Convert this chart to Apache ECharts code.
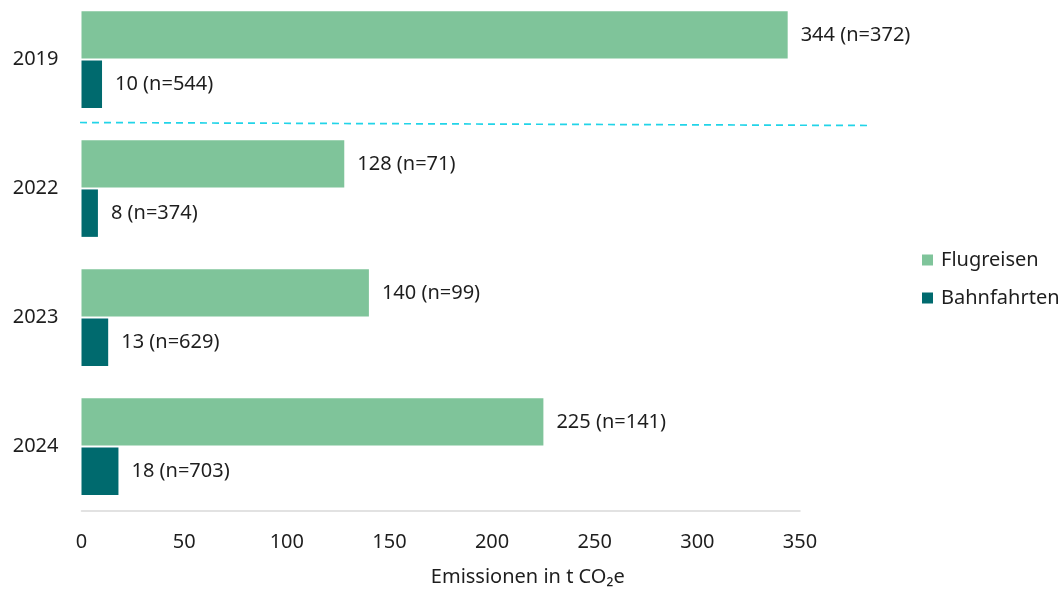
<!DOCTYPE html>
<html>
<head>
<meta charset="utf-8">
<script src="https://cdn.jsdelivr.net/npm/echarts@6/dist/echarts.min.js"></script>
<style>
  html, body { margin: 0; padding: 0; background: #ffffff; overflow: hidden; }
  /* the plot area starts slightly above the page edge, so the canvas is shifted up */
  #chart { width: 1063px; height: 597px; transform: translateY(-5px); }
</style>
</head>
<body>
<div id="chart"></div>
<script>
// Travel emissions per year, in tonnes CO2e, with number of trips
const years = ['2019', '2022', '2023', '2024'];
const flugreisen = [344, 128, 140, 225];
const flugreisenN = [372, 71, 99, 141];
const bahnfahrten = [10, 8, 13, 18];
const bahnfahrtenN = [544, 374, 629, 703];
const xTicks = [0, 50, 100, 150, 200, 250, 300, 350];

const FONT = '"Noto Sans", "Open Sans", sans-serif';
const TEXT = '#1e1e1e';
const SIZE = 20;

const chart = echarts.init(document.getElementById('chart'), null, { renderer: 'canvas' });

function labelFor(counts) {
  return {
    show: true,
    position: 'right',
    distance: 13,
    color: TEXT,
    fontFamily: FONT,
    fontSize: SIZE,
    formatter: p => p.value + ' (n=' + counts[p.dataIndex] + ')'
  };
}

chart.setOption({
  animation: false,
  backgroundColor: '#ffffff',
  grid: { left: 81.5, right: 263, top: 0, bottom: 74 },
  legend: {
    orient: 'vertical',
    left: 917,
    top: 250,
    itemWidth: 11,
    itemHeight: 11,
    itemGap: 18,
    icon: 'rect',
    textStyle: { color: TEXT, fontFamily: FONT, fontSize: SIZE, padding: [0, 0, 0, 3] },
    data: ['Flugreisen', 'Bahnfahrten']
  },
  xAxis: {
    type: 'value',
    min: xTicks[0],
    max: xTicks[xTicks.length - 1],
    interval: xTicks[1] - xTicks[0],
    name: 'Emissionen in t CO\u2082e',
    nameLocation: 'middle',
    nameGap: 56,
    nameTextStyle: { color: TEXT, fontFamily: FONT, fontSize: SIZE, padding: [0, 0, 0, 174] },
    axisLine: { show: true, lineStyle: { color: '#d9d9d9', width: 1.5 } },
    axisTick: { show: false },
    splitLine: { show: false },
    axisLabel: { color: TEXT, fontFamily: FONT, fontSize: SIZE, margin: 21 }
  },
  yAxis: {
    type: 'category',
    data: years,
    inverse: true,
    axisLine: { show: false },
    axisTick: { show: false },
    axisLabel: { color: TEXT, fontFamily: FONT, fontSize: SIZE, margin: 23 }
  },
  series: [
    {
      name: 'Flugreisen',
      type: 'bar',
      data: flugreisen,
      barCategoryGap: '25%',
      barGap: '4%',
      itemStyle: { color: '#7fc49a' },
      label: labelFor(flugreisenN)
    },
    {
      name: 'Bahnfahrten',
      type: 'bar',
      data: bahnfahrten,
      barCategoryGap: '25%',
      barGap: '4%',
      itemStyle: { color: '#006a6e' },
      label: labelFor(bahnfahrtenN)
    }
  ]
});

// Dashed separator between the pre-pandemic year and the later years
const yA = chart.convertToPixel({ yAxisIndex: 0 }, years[0]);
const yB = chart.convertToPixel({ yAxisIndex: 0 }, years[1]);
const yMid = (yA + yB) / 2;
const x0 = chart.convertToPixel({ xAxisIndex: 0 }, 0) - 1.5;
const x1 = chart.convertToPixel({ xAxisIndex: 0 }, 384);
chart.setOption({
  graphic: [{
    type: 'line',
    silent: true,
    shape: { x1: x0, y1: yMid - 1.5, x2: x1, y2: yMid + 1.5 },
    style: { stroke: '#22d4e8', lineWidth: 1.7, lineDash: [7, 5] }
  }]
});
</script>
</body>
</html>
